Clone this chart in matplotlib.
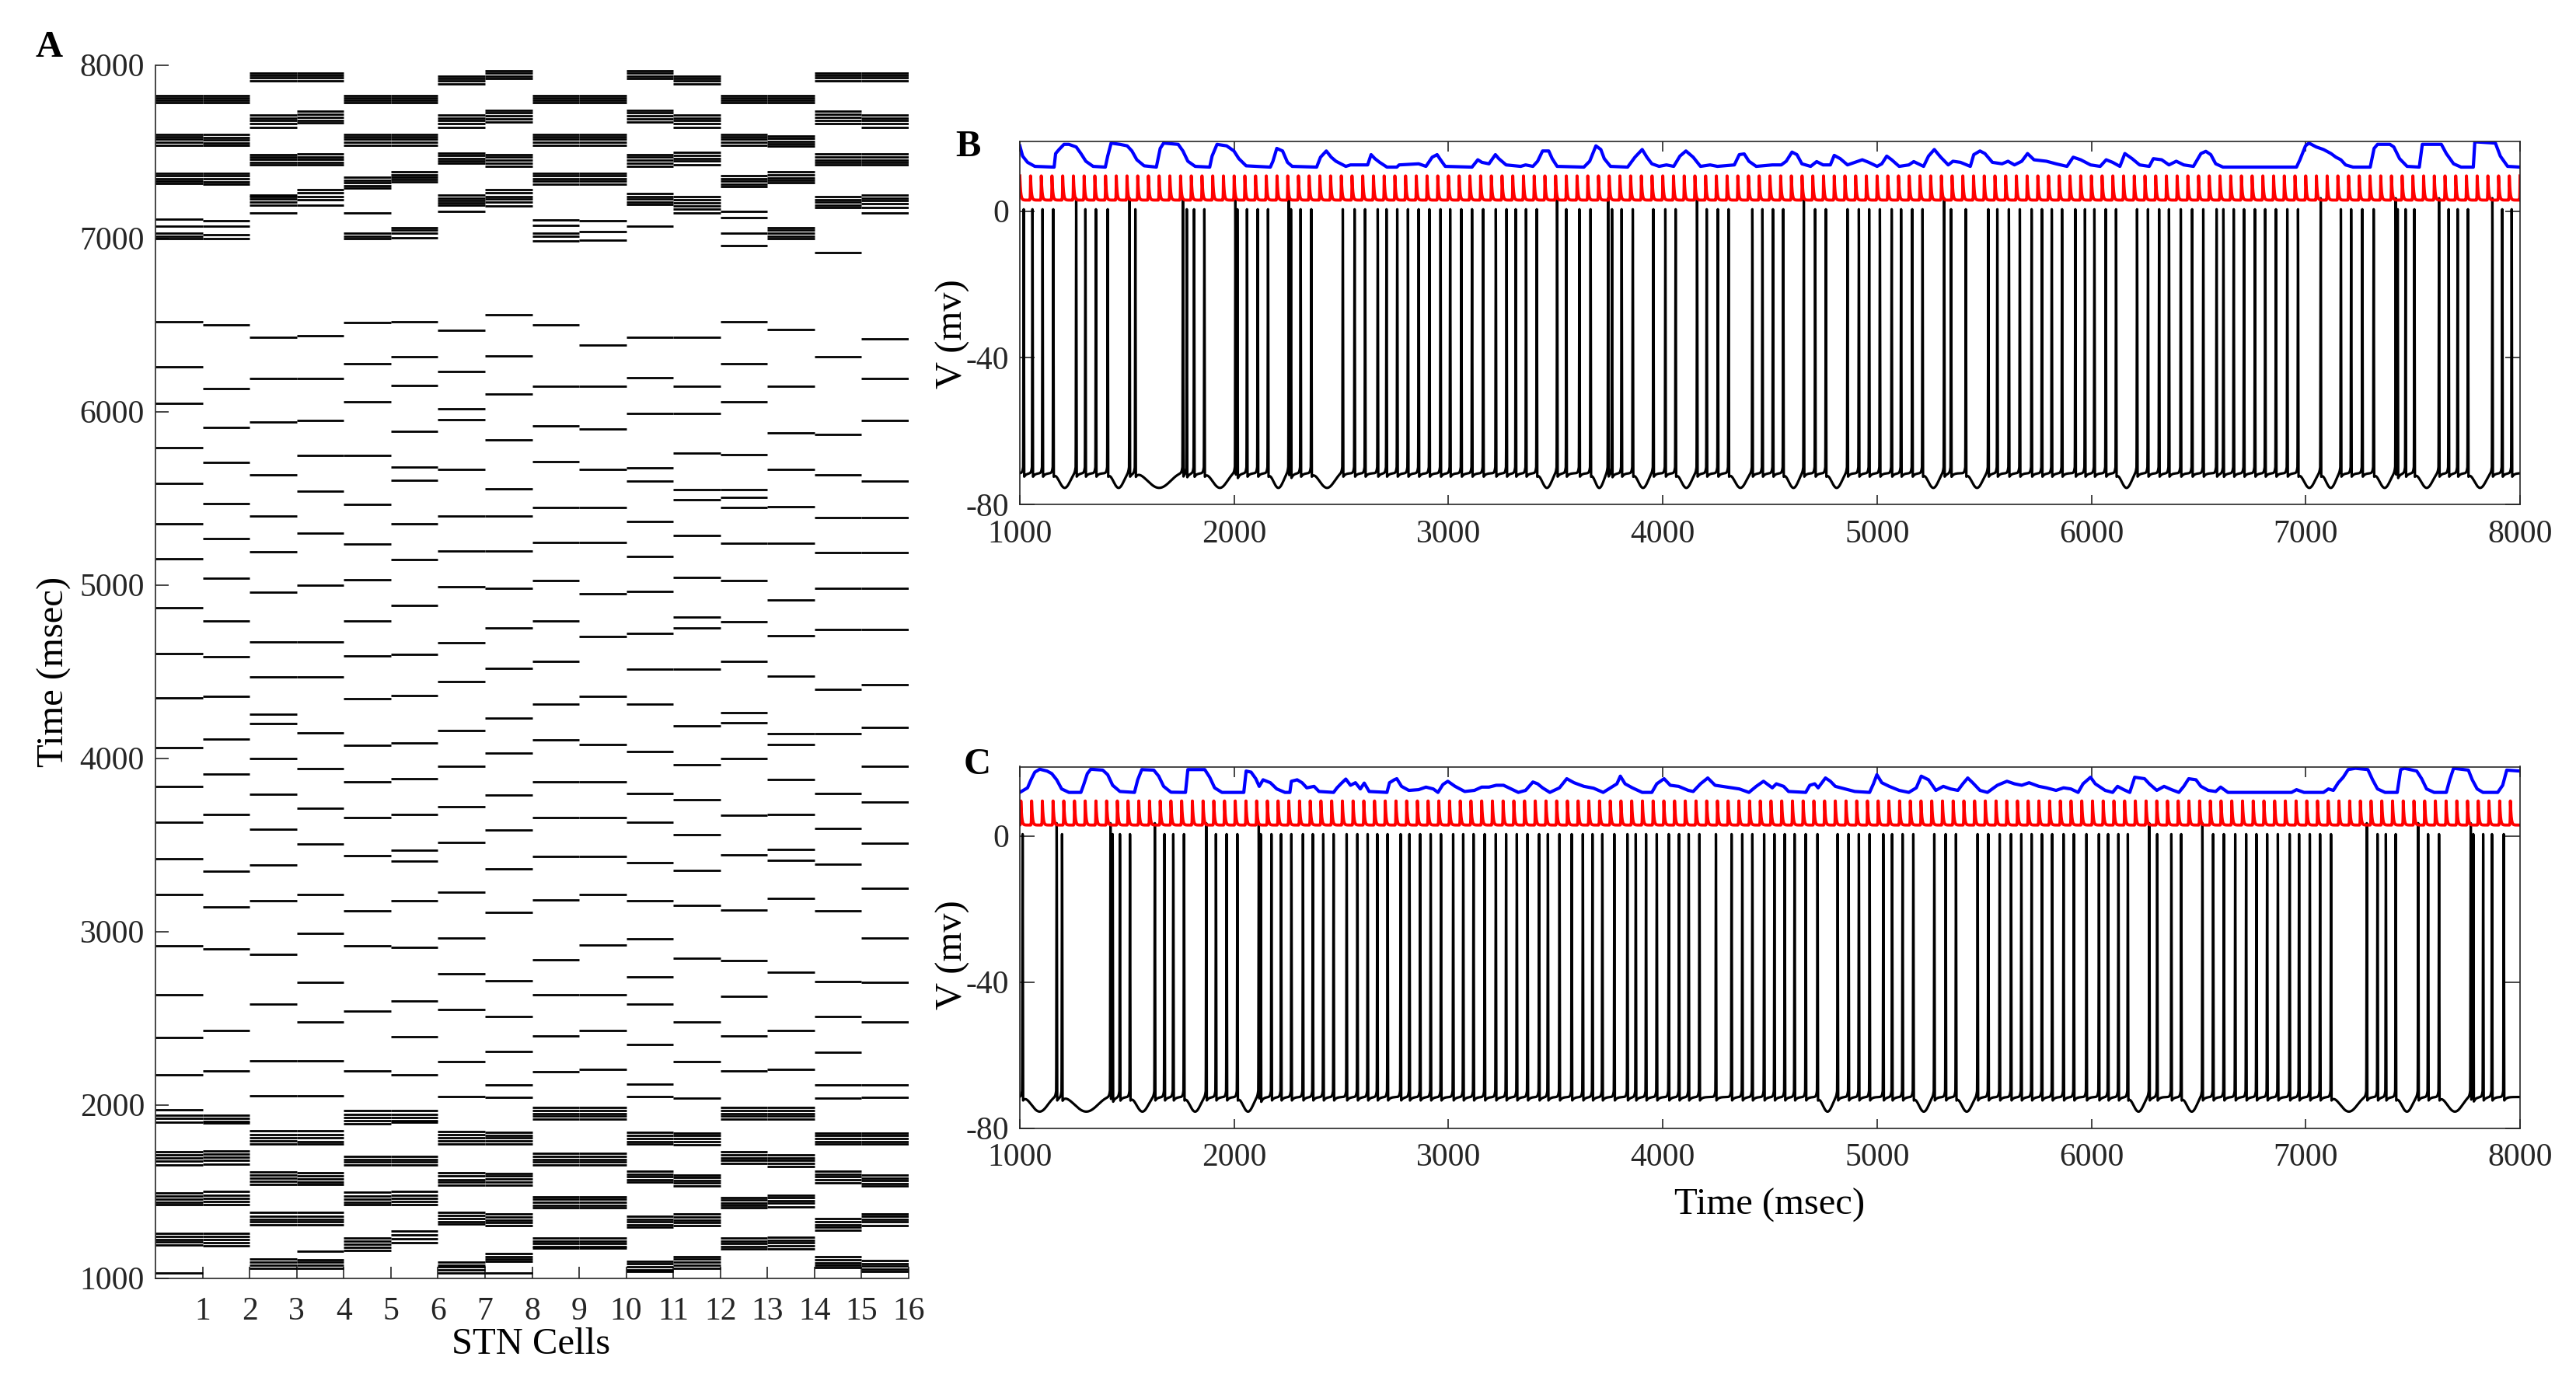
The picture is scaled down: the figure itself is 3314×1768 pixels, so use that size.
import numpy as np
import matplotlib
matplotlib.use('Agg')
import matplotlib.pyplot as plt

# ── Style ──────────────────────────────────────────────────────────────
plt.rcParams.update({
    'font.family': 'serif',
    'font.serif': ['Liberation Serif', 'DejaVu Serif'],
    'axes.unicode_minus': False,
    'font.size': 15,
    'axes.linewidth': 0.6,
})
AX_COL = '#262626'

# ── Data: panel A, spike times (ms) of the 16 STN cells ───────────────
STN_SPIKES = [
    [1028, 1190, 1207, 1223, 1239, 1258, 1423, 1437, 1453, 1471, 1491, 1653, 1674, 1694, 1710, 1730,
     1897, 1921, 1941, 1970, 2173, 2389, 2633, 2919, 3214, 3420, 3631, 3837, 4062, 4349, 4603, 4869,
     5149, 5351, 5587, 5792, 6046, 6259, 6519, 6996, 7010, 7027, 7070, 7110, 7314, 7328, 7345, 7359,
     7376, 7537, 7554, 7571, 7585, 7599, 7782, 7794, 7808, 7822],
    [1187, 1203, 1220, 1239, 1258, 1423, 1442, 1460, 1479, 1499, 1658, 1678, 1697, 1715, 1734, 1894,
     1905, 1921, 1941, 2194, 2430, 2901, 3142, 3349, 3677, 3909, 4112, 4358, 4587, 4793, 5037, 5266,
     5470, 5706, 5908, 6133, 6501, 6996, 7022, 7070, 7103, 7310, 7324, 7341, 7359, 7376, 7537, 7551,
     7568, 7582, 7599, 7782, 7794, 7808, 7822],
    [1057, 1076, 1093, 1109, 1307, 1324, 1340, 1358, 1377, 1539, 1557, 1575, 1593, 1613, 1775, 1791,
     1811, 1829, 1848, 2051, 2254, 2579, 2868, 3175, 3385, 3589, 3792, 3996, 4200, 4253, 4468, 4672,
     4957, 5191, 5395, 5636, 5941, 6192, 6427, 7147, 7190, 7207, 7225, 7238, 7250, 7425, 7439, 7455,
     7468, 7482, 7640, 7662, 7679, 7693, 7709, 7908, 7925, 7940, 7954],
    [1057, 1073, 1090, 1106, 1154, 1307, 1324, 1340, 1358, 1377, 1539, 1554, 1572, 1590, 1609, 1775,
     1788, 1808, 1827, 1848, 2051, 2254, 2477, 2707, 2988, 3213, 3503, 3711, 3941, 4147, 4468, 4672,
     4996, 5300, 5539, 5745, 5950, 6192, 6435, 7190, 7221, 7242, 7262, 7281, 7425, 7439, 7455, 7470,
     7485, 7667, 7679, 7697, 7714, 7734, 7908, 7925, 7940, 7954],
    [1161, 1177, 1193, 1211, 1232, 1423, 1439, 1456, 1474, 1496, 1653, 1669, 1686, 1702, 1889, 1908,
     1924, 1945, 1965, 2194, 2542, 2915, 3120, 3438, 3659, 3865, 4073, 4342, 4589, 4793, 5028, 5236,
     5466, 5748, 6058, 6274, 6513, 6996, 7010, 7027, 7147, 7290, 7302, 7319, 7336, 7353, 7534, 7554,
     7571, 7585, 7599, 7782, 7794, 7808, 7822],
    [1202, 1226, 1247, 1271, 1423, 1442, 1460, 1479, 1499, 1653, 1669, 1686, 1702, 1897, 1910, 1928,
     1945, 1967, 2171, 2392, 2597, 2909, 3179, 3404, 3470, 3674, 3881, 4087, 4360, 4599, 4879, 5147,
     5351, 5601, 5681, 5886, 6149, 6315, 6518, 7002, 7027, 7045, 7062, 7324, 7338, 7352, 7365, 7382,
     7534, 7554, 7571, 7585, 7599, 7782, 7794, 7808, 7822],
    [1028, 1049, 1063, 1076, 1093, 1312, 1327, 1343, 1359, 1379, 1536, 1552, 1569, 1588, 1608, 1775,
     1791, 1808, 1827, 1845, 2046, 2251, 2550, 2754, 2961, 3227, 3514, 3720, 3954, 4159, 4440, 4667,
     4987, 5193, 5397, 5667, 5955, 6015, 6229, 6470, 7153, 7190, 7204, 7216, 7233, 7250, 7431, 7448,
     7461, 7477, 7491, 7640, 7662, 7679, 7693, 7709, 7889, 7908, 7923, 7937],
    [1028, 1096, 1109, 1125, 1141, 1304, 1320, 1336, 1353, 1369, 1536, 1552, 1572, 1588, 1604, 1775,
     1791, 1808, 1824, 1840, 2043, 2115, 2306, 2511, 2717, 3108, 3360, 3583, 3789, 4028, 4232, 4518,
     4750, 4979, 5193, 5397, 5555, 5835, 6101, 6319, 6559, 7187, 7207, 7225, 7242, 7262, 7281, 7417,
     7434, 7451, 7468, 7482, 7671, 7688, 7705, 7722, 7736, 7920, 7937, 7954, 7968],
    [1171, 1182, 1198, 1215, 1231, 1405, 1421, 1437, 1453, 1470, 1653, 1669, 1686, 1702, 1718, 1918,
     1934, 1949, 1967, 1986, 2192, 2396, 2633, 2837, 3181, 3431, 3659, 3865, 4104, 4310, 4557, 4793,
     5025, 5243, 5447, 5709, 5917, 6147, 6499, 6984, 7010, 7031, 7074, 7105, 7310, 7328, 7345, 7359,
     7376, 7534, 7554, 7571, 7585, 7599, 7782, 7794, 7808, 7822],
    [1171, 1182, 1198, 1215, 1231, 1405, 1421, 1437, 1453, 1470, 1653, 1669, 1686, 1702, 1718, 1918,
     1934, 1949, 1967, 1986, 2202, 2428, 2636, 2920, 3214, 3431, 3659, 3865, 4078, 4358, 4700, 4948,
     5243, 5447, 5665, 5898, 6147, 6384, 6988, 7036, 7099, 7310, 7328, 7345, 7359, 7376, 7534, 7554,
     7571, 7585, 7599, 7782, 7794, 7808, 7822],
    [1036, 1049, 1065, 1081, 1098, 1293, 1307, 1323, 1340, 1356, 1556, 1567, 1583, 1600, 1616, 1775,
     1788, 1804, 1824, 1843, 2046, 2119, 2348, 2582, 2738, 2956, 3179, 3397, 3628, 3796, 4039, 4310,
     4512, 4720, 4961, 5165, 5367, 5597, 5677, 5989, 6195, 6427, 7070, 7194, 7207, 7225, 7242, 7259,
     7417, 7434, 7451, 7468, 7482, 7671, 7688, 7705, 7722, 7736, 7920, 7937, 7954, 7968],
    [1057, 1076, 1093, 1109, 1125, 1304, 1320, 1336, 1353, 1369, 1531, 1548, 1564, 1580, 1596, 1767,
     1788, 1804, 1821, 1837, 2038, 2249, 2477, 2844, 3149, 3353, 3557, 3760, 3964, 4186, 4514, 4753,
     4814, 5042, 5285, 5493, 5551, 5758, 5989, 6147, 6427, 7147, 7170, 7187, 7204, 7221, 7238, 7422,
     7444, 7461, 7479, 7496, 7640, 7662, 7679, 7693, 7709, 7889, 7908, 7923, 7937],
    [1166, 1182, 1198, 1215, 1231, 1405, 1418, 1434, 1450, 1466, 1661, 1678, 1694, 1710, 1730, 1918,
     1934, 1949, 1967, 1986, 2194, 2399, 2625, 2831, 3122, 3443, 3672, 3996, 4206, 4264, 4557, 4786,
     5025, 5241, 5445, 5503, 5551, 5752, 6058, 6274, 6516, 6959, 7027, 7117, 7156, 7297, 7310, 7328,
     7345, 7359, 7534, 7554, 7571, 7585, 7599, 7782, 7794, 7808, 7822],
    [1166, 1185, 1202, 1218, 1234, 1410, 1431, 1447, 1463, 1479, 1642, 1661, 1678, 1694, 1710, 1918,
     1934, 1949, 1967, 1986, 2202, 2430, 2764, 3191, 3409, 3472, 3674, 3878, 4080, 4140, 4472, 4706,
     4913, 5241, 5449, 5665, 5878, 6147, 6473, 6996, 7010, 7027, 7045, 7062, 7319, 7334, 7348, 7365,
     7382, 7530, 7546, 7559, 7576, 7589, 7782, 7794, 7808, 7822],
    [1060, 1073, 1089, 1106, 1122, 1276, 1293, 1309, 1325, 1341, 1548, 1567, 1583, 1600, 1616, 1772,
     1788, 1804, 1821, 1837, 2040, 2113, 2301, 2509, 2712, 3120, 3386, 3592, 3796, 4140, 4397, 4741,
     4979, 5186, 5388, 5635, 5866, 6315, 6916, 7177, 7190, 7207, 7221, 7238, 7422, 7437, 7451, 7468,
     7485, 7662, 7679, 7697, 7714, 7731, 7908, 7925, 7940, 7954],
    [1036, 1052, 1068, 1085, 1101, 1304, 1323, 1340, 1356, 1372, 1531, 1544, 1561, 1577, 1593, 1772,
     1788, 1804, 1821, 1837, 2043, 2115, 2477, 2707, 2961, 3250, 3507, 3748, 3952, 4175, 4425, 4741,
     4980, 5186, 5388, 5597, 5950, 6190, 6418, 7147, 7178, 7199, 7216, 7233, 7250, 7422, 7437, 7451,
     7468, 7485, 7640, 7662, 7679, 7693, 7709, 7908, 7925, 7940, 7954],
]
CELL_TICKS = list(range(1, 17))
TIME_TICKS = [1000, 2000, 3000, 4000, 5000, 6000, 7000, 8000]
V_TICKS = [-80, -40, 0]

# ── Data: panel B (spike times, tall spikes, red and blue traces) ─────
SPIKES_B = [
    1018, 1059, 1106, 1156, 1263, 1306, 1355, 1410, 1512, 1539, 1761, 1779, 1813, 1861, 2006, 2015,
    2060, 2110, 2158, 2255, 2265, 2310, 2360, 2507, 2562, 2611, 2670, 2711, 2761, 2811, 2861, 2911,
    2963, 3008, 3060, 3110, 3162, 3221, 3271, 3314, 3362, 3412, 3507, 3550, 3611, 3663, 3745, 3763,
    3808, 3860, 3956, 4012, 4060, 4160, 4205, 4257, 4307, 4418, 4465, 4514, 4562, 4658, 4711, 4761,
    4862, 4915, 4963, 5013, 5068, 5112, 5164, 5212, 5313, 5345, 5414, 5519, 5561, 5615, 5666, 5721,
    5769, 5815, 5863, 5925, 5970, 6014, 6067, 6115, 6213, 6264, 6316, 6362, 6417, 6470, 6522, 6584,
    6616, 6664, 6712, 6763, 6811, 6861, 6914, 6964, 7070, 7164, 7212, 7264, 7317, 7420, 7429, 7466,
    7507, 7622, 7667, 7709, 7757, 7871, 7917, 7961]
TALL_B = [1263, 1512, 1761, 2006, 2255, 3507, 3745, 4160, 4658, 5313, 7070, 7420, 7622, 7871]
RED_B = [
    1000, 1050, 1100, 1150, 1200, 1250, 1300, 1350, 1400, 1450, 1500, 1550, 1600, 1650, 1700, 1750,
    1800, 1850, 1900, 1950, 2000, 2050, 2100, 2150, 2200, 2250, 2300, 2350, 2400, 2450, 2500, 2550,
    2600, 2650, 2700, 2750, 2800, 2850, 2900, 2950, 3000, 3050, 3100, 3150, 3200, 3250, 3300, 3350,
    3400, 3450, 3500, 3550, 3600, 3650, 3700, 3750, 3800, 3850, 3900, 3950, 4000, 4050, 4100, 4150,
    4200, 4250, 4300, 4350, 4400, 4450, 4500, 4550, 4600, 4650, 4700, 4750, 4800, 4850, 4900, 4950,
    5000, 5050, 5100, 5150, 5200, 5250, 5300, 5350, 5400, 5450, 5500, 5550, 5600, 5650, 5700, 5750,
    5800, 5850, 5900, 5950, 6000, 6050, 6100, 6150, 6200, 6250, 6300, 6350, 6400, 6450, 6500, 6550,
    6600, 6650, 6700, 6750, 6800, 6850, 6900, 6950, 7000, 7050, 7100, 7150, 7200, 7250, 7300, 7350,
    7400, 7450, 7500, 7550, 7600, 7650, 7700, 7750, 7800, 7850, 7900, 7950, 8000]
BLUE_B_T = [
    1000, 1013, 1036, 1070, 1160, 1167, 1183, 1206, 1229, 1263, 1285, 1308, 1342, 1399, 1410, 1426,
    1467, 1501, 1523, 1546, 1580, 1637, 1655, 1671, 1739, 1761, 1784, 1818, 1886, 1897, 1920, 1965,
    1999, 2022, 2056, 2169, 2181, 2199, 2226, 2249, 2271, 2385, 2403, 2430, 2453, 2475, 2521, 2543,
    2623, 2639, 2657, 2679, 2713, 2759, 2770, 2861, 2895, 2924, 2947, 2963, 2985, 3110, 3137, 3156,
    3189, 3219, 3235, 3269, 3337, 3360, 3394, 3416, 3439, 3468, 3484, 3507, 3632, 3659, 3688, 3711,
    3727, 3756, 3836, 3870, 3904, 3926, 3949, 3983, 4017, 4051, 4080, 4108, 4142, 4176, 4221, 4255,
    4334, 4357, 4380, 4402, 4436, 4511, 4553, 4576, 4603, 4626, 4649, 4690, 4718, 4748, 4782, 4800,
    4828, 4862, 4896, 4931, 4961, 5000, 5022, 5045, 5068, 5103, 5148, 5171, 5217, 5240, 5267, 5297,
    5332, 5354, 5389, 5435, 5451, 5480, 5503, 5538, 5583, 5611, 5641, 5675, 5702, 5732, 5790, 5835,
    5886, 5915, 5950, 5996, 6041, 6069, 6099, 6133, 6156, 6190, 6225, 6270, 6289, 6328, 6362, 6396,
    6431, 6476, 6511, 6534, 6557, 6580, 6614, 6957, 6973, 6999, 7015, 7049, 7083, 7118, 7141, 7164,
    7186, 7221, 7301, 7319, 7335, 7393, 7411, 7438, 7473, 7530, 7544, 7633, 7656, 7690, 7725, 7782,
    7789, 7885, 7908, 7942, 8000]
BLUE_B_V = [
    17.8, 15.0, 13.3, 12.2, 12.0, 15.7, 16.8, 18.2, 18.2, 17.5, 15.7, 13.6, 12.2, 12.0, 15.0, 18.55,
    18.2, 17.8, 16.4, 14.0, 12.35, 12.0, 17.1, 18.55, 18.2, 16.4, 13.6, 12.2, 12.0, 15.0, 18.2, 17.8,
    16.4, 14.3, 12.35, 12.0, 13.6, 17.1, 16.4, 13.3, 12.2, 12.0, 14.7, 16.4, 14.7, 13.6, 12.2, 12.6,
    12.6, 15.4, 14.3, 13.3, 12.0, 12.0, 12.6, 12.9, 12.2, 14.7, 15.4, 14.0, 12.2, 12.0, 14.0, 13.3,
    12.9, 15.4, 14.3, 12.6, 12.2, 12.6, 12.2, 13.6, 16.4, 16.4, 14.3, 12.2, 12.0, 13.6, 17.8, 16.8,
    14.3, 12.2, 12.0, 14.7, 16.8, 14.7, 12.9, 12.2, 12.6, 12.2, 15.0, 16.4, 14.7, 12.2, 12.6, 12.2,
    12.6, 15.4, 15.6, 13.6, 12.2, 12.6, 12.6, 13.6, 16.1, 15.4, 12.9, 12.2, 13.5, 12.6, 12.6, 15.2,
    14.3, 12.6, 13.3, 14.0, 13.3, 12.2, 12.9, 15.0, 14.0, 12.2, 12.6, 13.5, 12.2, 15.0, 16.8, 14.7,
    12.6, 13.6, 13.3, 12.2, 15.4, 16.4, 15.7, 13.3, 12.9, 13.6, 12.6, 13.6, 15.7, 14.0, 13.6, 12.9,
    12.2, 14.7, 14.0, 12.6, 12.2, 14.0, 13.3, 12.2, 15.7, 14.3, 12.6, 12.2, 14.3, 14.0, 12.6, 13.6,
    12.6, 12.2, 15.7, 16.3, 15.4, 12.9, 12.0, 12.0, 14.0, 17.8, 18.55, 17.5, 16.8, 15.7, 14.7, 14.0,
    12.6, 12.0, 12.0, 17.1, 18.2, 18.2, 17.5, 14.3, 12.2, 12.0, 18.2, 18.2, 15.7, 12.9, 12.0, 12.0,
    18.9, 18.55, 15.0, 12.2, 12.0]

# ── Data: panel C ──────────────────────────────────────────────────────
SPIKES_C = [
    1013, 1172, 1197, 1423, 1433, 1467, 1514, 1630, 1675, 1716, 1766, 1870, 1915, 1965, 2015, 2115,
    2124, 2174, 2219, 2267, 2321, 2367, 2416, 2464, 2525, 2575, 2623, 2668, 2716, 2777, 2818, 2868,
    2917, 2965, 3022, 3069, 3117, 3169, 3221, 3269, 3319, 3369, 3423, 3464, 3518, 3575, 3627, 3672,
    3718, 3774, 3835, 3874, 3922, 3972, 4028, 4076, 4121, 4171, 4248, 4321, 4371, 4418, 4473, 4521,
    4569, 4615, 4667, 4722, 4816, 4867, 4915, 4965, 5029, 5070, 5119, 5169, 5267, 5320, 5368, 5469,
    5519, 5572, 5625, 5673, 5721, 5769, 5817, 5870, 5918, 5977, 6035, 6078, 6126, 6170, 6270, 6307,
    6373, 6419, 6518, 6568, 6618, 6671, 6722, 6770, 6820, 6870, 6925, 6969, 7019, 7067, 7118, 7285,
    7335, 7374, 7420, 7525, 7571, 7622, 7770, 7782, 7828, 7869, 7924]
TALL_C = [1172, 1423, 1630, 1870, 2115, 6270, 6518, 7285, 7525, 7770]
RED_C = [
    1005, 1055, 1105, 1155, 1205, 1255, 1305, 1355, 1405, 1455, 1505, 1555, 1605, 1655, 1705, 1755,
    1805, 1855, 1905, 1955, 2005, 2055, 2105, 2155, 2205, 2255, 2305, 2355, 2405, 2455, 2505, 2555,
    2605, 2655, 2705, 2755, 2805, 2855, 2905, 2955, 3005, 3055, 3105, 3155, 3205, 3255, 3305, 3355,
    3405, 3455, 3505, 3555, 3605, 3655, 3705, 3755, 3805, 3855, 3905, 3955, 4005, 4055, 4105, 4155,
    4205, 4255, 4305, 4355, 4405, 4455, 4505, 4555, 4605, 4655, 4705, 4755, 4805, 4855, 4905, 4955,
    5005, 5055, 5105, 5155, 5205, 5255, 5305, 5355, 5405, 5455, 5505, 5555, 5605, 5655, 5705, 5755,
    5805, 5855, 5905, 5955, 6005, 6055, 6105, 6155, 6205, 6255, 6305, 6355, 6405, 6455, 6505, 6555,
    6605, 6655, 6705, 6755, 6805, 6855, 6905, 6955, 7005, 7055, 7105, 7155, 7205, 7255, 7305, 7355,
    7405, 7455, 7505, 7555, 7605, 7655, 7705, 7755, 7805, 7855, 7905, 7955]
BLUE_C_T = [
    1000, 1036, 1052, 1070, 1093, 1127, 1149, 1172, 1195, 1229, 1285, 1297, 1315, 1331, 1387, 1410,
    1433, 1467, 1535, 1550, 1569, 1625, 1648, 1671, 1705, 1773, 1784, 1863, 1886, 1909, 1943, 2045,
    2056, 2079, 2101, 2117, 2135, 2169, 2199, 2237, 2260, 2267, 2294, 2317, 2339, 2373, 2396, 2464,
    2480, 2498, 2521, 2543, 2566, 2589, 2607, 2630, 2713, 2725, 2747, 2759, 2781, 2815, 2861, 2895,
    2929, 2951, 2974, 2997, 3031, 3076, 3121, 3155, 3189, 3223, 3257, 3292, 3326, 3360, 3394, 3416,
    3439, 3473, 3518, 3552, 3586, 3632, 3677, 3722, 3756, 3786, 3802, 3824, 3858, 3904, 3949, 3972,
    4006, 4035, 4074, 4119, 4142, 4176, 4210, 4244, 4300, 4357, 4402, 4436, 4470, 4511, 4530, 4564,
    4587, 4667, 4686, 4709, 4725, 4759, 4782, 4805, 4851, 4896, 4965, 4983, 4999, 5022, 5057, 5103,
    5148, 5183, 5206, 5240, 5274, 5309, 5343, 5377, 5400, 5423, 5446, 5480, 5515, 5561, 5606, 5641,
    5675, 5709, 5755, 5790, 5835, 5870, 5904, 5938, 5961, 5996, 6018, 6064, 6099, 6122, 6151, 6179,
    6202, 6248, 6270, 6305, 6339, 6374, 6408, 6431, 6454, 6488, 6511, 6545, 6580, 6603, 6637, 6934,
    6957, 6992, 7083, 7106, 7129, 7152, 7175, 7198, 7232, 7290, 7312, 7335, 7370, 7427, 7443, 7461,
    7518, 7541, 7564, 7599, 7656, 7672, 7690, 7759, 7777, 7800, 7827, 7896, 7919, 7938, 8000]
BLUE_C_V = [
    11.95, 13.2, 15.4, 17.5, 18.3, 17.8, 17.1, 15.4, 12.9, 11.95, 11.95, 13.9, 17.1, 18.3, 18.05, 16.8,
    13.9, 12.2, 11.95, 15.4, 18.2, 18.05, 16.4, 13.6, 12.0, 11.95, 18.2, 18.2, 16.1, 13.2, 11.95, 11.95,
    17.8, 17.5, 15.7, 13.6, 15.4, 14.6, 12.9, 11.95, 11.95, 15.0, 15.4, 14.6, 13.2, 13.6, 12.2, 11.95,
    13.2, 14.3, 15.6, 13.9, 14.6, 12.9, 14.5, 12.2, 11.95, 14.6, 15.4, 15.7, 13.6, 12.5, 12.7, 13.4,
    12.9, 11.95, 14.1, 15.0, 13.6, 12.2, 12.5, 13.4, 13.4, 13.9, 13.9, 12.9, 11.95, 12.5, 14.8, 14.3,
    13.2, 11.95, 13.2, 15.7, 14.6, 13.6, 13.1, 11.95, 13.2, 14.3, 16.4, 14.3, 13.2, 11.95, 11.95, 14.3,
    15.7, 13.9, 13.6, 12.5, 12.2, 14.3, 15.9, 13.9, 13.4, 12.9, 11.95, 13.6, 15.0, 13.2, 14.3, 13.6,
    12.2, 11.95, 13.9, 14.3, 13.2, 15.9, 15.0, 13.6, 12.9, 12.2, 11.95, 14.3, 16.8, 14.6, 13.6, 12.5,
    11.95, 13.2, 16.4, 15.4, 12.5, 13.6, 12.9, 12.5, 14.3, 15.9, 14.6, 12.5, 11.95, 13.9, 15.0, 14.3,
    13.9, 14.6, 13.6, 13.2, 12.5, 13.2, 12.9, 11.95, 14.3, 16.1, 14.3, 12.5, 11.95, 13.6, 12.7, 11.95,
    16.1, 15.7, 14.3, 12.5, 13.6, 12.7, 11.95, 13.6, 15.7, 15.4, 13.6, 12.5, 12.2, 13.4, 11.95, 11.95,
    12.7, 11.95, 11.95, 12.9, 12.5, 14.6, 16.1, 18.2, 18.55, 18.2, 15.4, 12.9, 11.95, 11.95, 18.2, 18.55,
    17.8, 15.7, 12.9, 11.95, 11.95, 15.4, 18.55, 18.05, 15.4, 12.9, 11.95, 11.95, 13.9, 18.05, 17.8]


# ── Trace rendering from spike times ──────────────────────────────────
def voltage_trace(t, spikes, tall):
    v = np.full_like(t, -71.5)
    for a, b in zip(spikes[:-1], spikes[1:]):
        gap = b - a
        if gap > 80:
            m = (t > a) & (t < b)
            v[m] -= 4.0 * np.sin(np.pi * (t[m] - a) / gap) ** 2
    for ts in spikes:
        d = t - ts
        pre = (d < 0) & (d > -20)
        v[pre] += 3.5 * np.exp(d[pre] / 3.5)
        post = (d >= 0) & (d < 60)
        v[post] -= 1.2 * np.exp(-d[post] / 10.0)
    for ts in spikes:
        pk = 3.5 if ts in tall else 0.5
        d = t - ts
        win = np.abs(d) < 6
        pulse = -80 + (pk + 80) * np.exp(-0.5 * (d[win] / 1.1) ** 2)
        v[win] = np.maximum(v[win], pulse)
    return v


def red_trace(t, peaks):
    r = np.full_like(t, 3.0)
    for ts in peaks:
        d = t - ts
        win = (d > -4) & (d < 30)
        dd = d[win]
        r[win] += 6.6 * np.where(dd < 0, np.exp(dd / 0.8), np.exp(-dd / 3.8))
    return r


# ── Figure ─────────────────────────────────────────────────────────────
W, H, DPI = 3314, 1768, 200
fig = plt.figure(figsize=(W / DPI, H / DPI), dpi=DPI)


def box(x0, y0, x1, y1):
    # pixel box (left, top, right, bottom) -> figure fraction rect
    return [x0 / W, 1 - y1 / H, (x1 - x0) / W, (y1 - y0) / H]


# ── Panel A: raster ───────────────────────────────────────────────────
ax_a = fig.add_axes(box(200, 83.5, 1169, 1644.5))
for i, times in enumerate(STN_SPIKES):
    ax_a.hlines(times, i, i + 1, colors='k', linewidth=1.0)
ax_a.set_xlim(0, 16)
ax_a.set_ylim(1000, 8000)
ax_a.set_xticks(CELL_TICKS)
ax_a.set_yticks(TIME_TICKS)
for s in ['top', 'right']:
    ax_a.spines[s].set_visible(False)
for s in ['left', 'bottom']:
    ax_a.spines[s].set_color(AX_COL)
ax_a.tick_params(axis='y', direction='in', length=6, width=0.6, pad=5,
                 colors=AX_COL, labelsize=15)
ax_a.tick_params(axis='x', direction='in', length=5.5, width=0.6, pad=8.5,
                 colors=AX_COL, labelsize=15)

fig.text(683 / W, 1 - 1742 / H, 'STN Cells', ha='center', va='baseline', fontsize=17.5)
fig.text(70 / W, 1 - 864 / H, 'Time (msec)', ha='center', va='center',
         rotation=90, fontsize=17.5)
fig.text(46 / W, 1 - 73 / H, 'A', ha='left', va='baseline', fontsize=17.5,
         fontweight='bold')

# ── Panels B and C: membrane voltage traces ──────────────────────────
t = np.arange(1000, 8000.5, 0.5)
panels = [
    (box(1312, 182, 3242, 649), SPIKES_B, TALL_B, RED_B, BLUE_B_T, BLUE_B_V,
     'B', (1229, 201), 430),
    (box(1312, 986.5, 3242, 1451.5), SPIKES_C, TALL_C, RED_C, BLUE_C_T, BLUE_C_V,
     'C', (1240, 996), 1229),
]
for rect, spk, tall, red, bt, bv, letter, lpos, ylab_y in panels:
    ax = fig.add_axes(rect)
    ax.plot(t, voltage_trace(t, spk, set(tall)), color='k', linewidth=1.15)
    ax.plot(t, red_trace(t, red), color='#ff0000', linewidth=1.4)
    ax.plot(bt, bv, color='#0000ff', linewidth=1.5)
    ax.set_xlim(1000, 8000)
    ax.set_ylim(-80, 19)
    ax.set_xticks(TIME_TICKS)
    ax.set_yticks(V_TICKS)
    for s in ax.spines.values():
        s.set_color(AX_COL)
    ax.tick_params(axis='x', direction='in', length=4.5, width=0.6, pad=7,
                   top=True, colors=AX_COL, labelsize=15)
    ax.tick_params(axis='y', direction='in', length=7, width=0.6, pad=5,
                   right=True, colors=AX_COL, labelsize=15)
    fig.text(1226 / W, 1 - ylab_y / H, 'V (mv)', ha='center', va='center',
             rotation=90, fontsize=17.5)
    fig.text(lpos[0] / W, 1 - lpos[1] / H, letter, ha='left', va='baseline',
             fontsize=17.5, fontweight='bold')

fig.text(2277 / W, 1 - 1563 / H, 'Time (msec)', ha='center', va='baseline', fontsize=17.5)

fig.savefig('out.png', dpi=DPI)
plt.close(fig)
